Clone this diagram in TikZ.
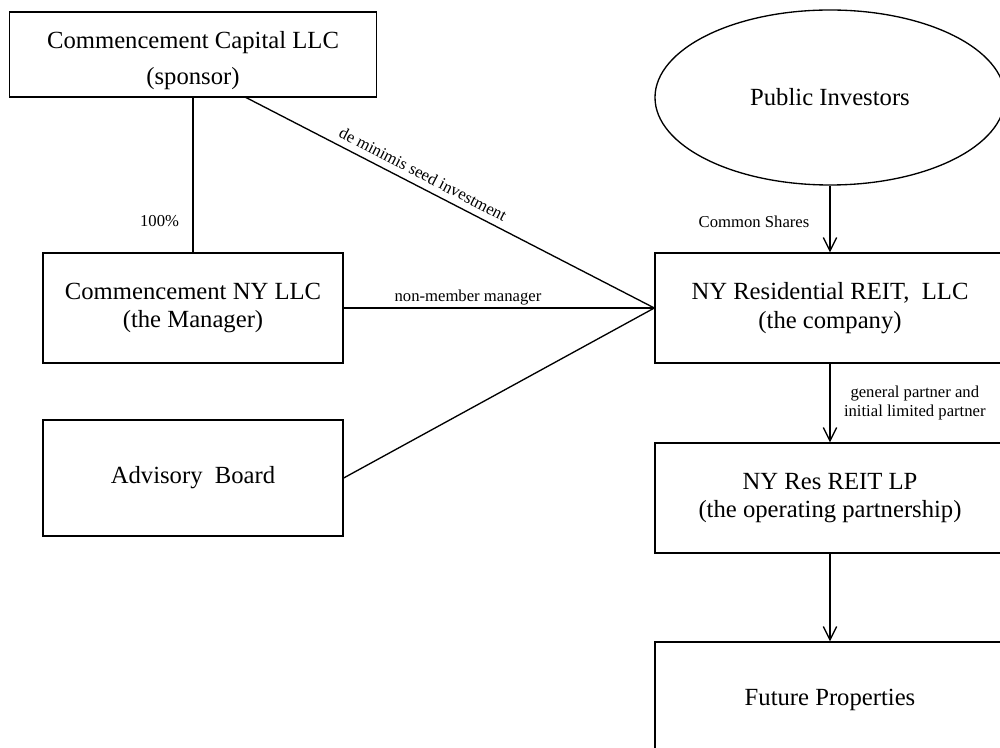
\documentclass[tikz,border=0pt]{standalone}
\usepackage{fontspec}
\setmainfont{Liberation Serif}
\usetikzlibrary{arrows.meta, shapes.geometric}

\tikzset{
  entity/.style = {draw, line width=1pt, align=center, font=\fontsize{18.5}{21.5}\selectfont},
  tag/.style = {font=\fontsize{12.5}{14}\selectfont, inner sep=2pt},
  link/.style = {line width=1pt},
  flow/.style = {line width=1pt, -{Straight Barb[length=10pt, width=10pt]}}
}

\begin{document}
\begin{tikzpicture}[x=0.75pt, y=-0.75pt]
\useasboundingbox (0,0) rectangle (1000,748);
\node[entity, minimum width=275.25pt, minimum height=63.75pt] (sponsor) at (193,54.5) {\rule{0pt}{22pt}Commencement Capital LLC\\[6pt](sponsor)};
\node[entity, minimum width=225pt, minimum height=82.5pt] (manager) at (193,308) {Commencement NY LLC\\(the Manager)};
\node[entity, minimum width=225pt, minimum height=87pt] (board) at (193,478) {Advisory\ \ Board};
\node[entity, ellipse, minimum width=262.5pt, minimum height=131.25pt] (investors) at (830,97.5) {Public Investors};
\node[entity, minimum width=262.5pt, minimum height=82.5pt] (company) at (830,308) {NY Residential REIT,\ \ LLC\\(the company)};
\node[entity, minimum width=262.5pt, minimum height=82.5pt] (partnership) at (830,498) {NY Res REIT LP\\(the operating partnership)};
\node[entity, minimum width=262.5pt, minimum height=87pt] (properties) at (830,700) {Future Properties};
\coordinate (seed) at (245,97);

\draw[link] (sponsor.south) -- (manager.north) node[tag, pos=0.8, left=8pt] {100\%};
\draw[link] (seed) -- (company.west) node[tag, pos=0.42, sloped, above=3pt] {de minimis seed investment};
\draw[link] (manager.east) -- (company.west) node[tag, pos=0.4, above] {non-member manager};
\draw[link] (board.east) -- (company.west);
\draw[flow] (investors.south) -- (company.north) node[tag, pos=0.54, left=13pt] {Common Shares};
\draw[flow] (company.south) -- (partnership.north) node[tag, pos=0.5, right=8pt, align=center] {general partner and\\initial limited partner};
\draw[flow] (partnership.south) -- (properties.north);
\end{tikzpicture}
\end{document}
